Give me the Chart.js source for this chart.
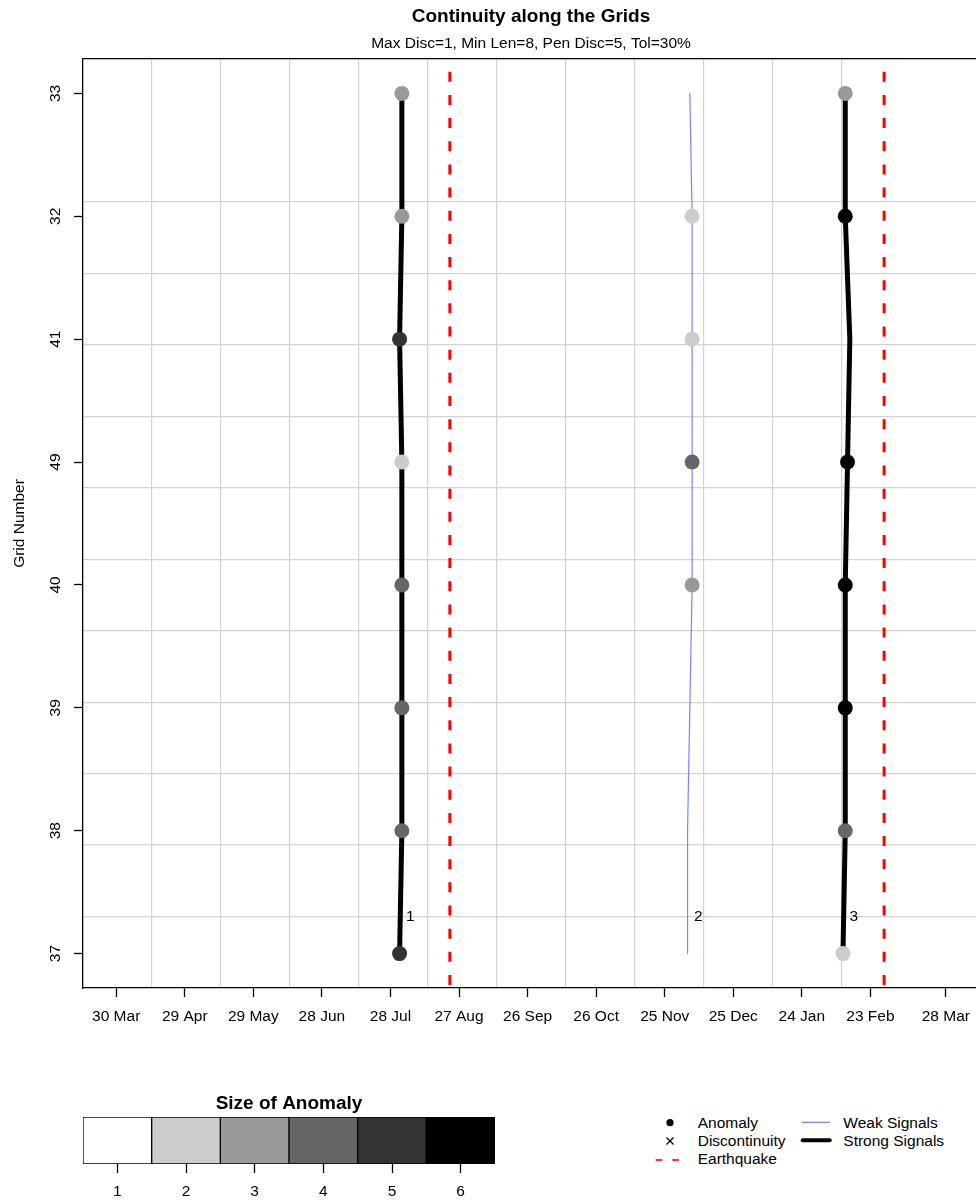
<!DOCTYPE html>
<html>
<head>
<meta charset="utf-8">
<script src="https://cdn.jsdelivr.net/npm/chart.js@4.4.1/dist/chart.umd.min.js"></script>
<style>
html,body{margin:0;padding:0;background:#fff;overflow:hidden;}
#wrap{position:relative;width:976px;height:1201px;overflow:hidden;background:#fff;font-family:"Liberation Sans",Arial,Helvetica,sans-serif;}
#main{position:absolute;left:0;top:0;}
#bar{position:absolute;left:0;top:1080px;}
#sym{position:absolute;left:640px;top:1100px;}
.lg{position:absolute;font-size:15.5px;line-height:18px;white-space:nowrap;color:#000;}
</style>
</head>
<body>
<div id="wrap">
<canvas id="main" width="1000" height="1040"></canvas>
<canvas id="bar" width="578" height="121"></canvas>
<svg id="sym" width="336" height="80" viewBox="0 0 336 80">
  <circle cx="30" cy="22.7" r="3.6" fill="#000"/>
  <line x1="26.5" y1="37.5" x2="33.5" y2="44.5" stroke="#000" stroke-width="1.3"/>
  <line x1="26.5" y1="44.5" x2="33.5" y2="37.5" stroke="#000" stroke-width="1.3"/>
  <line x1="15.7" y1="60" x2="22.3" y2="60" stroke="#FF0000" stroke-width="1.6"/>
  <line x1="32.3" y1="60" x2="39" y2="60" stroke="#FF0000" stroke-width="1.6"/>
  <line x1="161.7" y1="22.3" x2="190" y2="22.3" stroke="#8080FF" stroke-width="1.3"/>
  <line x1="162.7" y1="40.3" x2="189.7" y2="40.3" stroke="#000" stroke-width="4" stroke-linecap="round"/>
</svg>
<div class="lg" style="left:697.7px;top:1113.9px">Anomaly</div>
<div class="lg" style="left:697.7px;top:1131.9px">Discontinuity</div>
<div class="lg" style="left:697.7px;top:1149.9px">Earthquake</div>
<div class="lg" style="left:843.3px;top:1113.9px">Weak Signals</div>
<div class="lg" style="left:843.3px;top:1131.9px">Strong Signals</div>
</div>
<script>
// ---------- data ----------
const gridLabels = ['37','38','39','40','49','41','32','33'];   // bottom to top
const tickDays   = [0,30,60,90,120,150,180,210,240,270,300,330,363];
const tickLabels = ['30 Mar','29 Apr','29 May','28 Jun','28 Jul','27 Aug','26 Sep','26 Oct','25 Nov','25 Dec','24 Jan','23 Feb','28 Mar'];
const quakeDays  = [146, 336];
const sizeLevels = ['1','2','3','4','5','6'];
const sizeColors = ['#FFFFFF','#CCCCCC','#999999','#666666','#333333','#000000'];

// tracks: day (from 30 Mar) at each grid in gridLabels order, anomaly size (null = no anomaly)
const track1Days  = [124,125,125,125,125,124,125,125];
const track1Sizes = [5,4,4,4,2,5,3,3];
const track2Days  = [250,250,251,252,252,252,252,251];
const track2Sizes = [null,null,null,3,4,2,2,null];
const track3Days  = [318,319,319,319,320,321,319,319];
const track3Sizes = [2,4,6,6,6,null,6,3];
const trackIds    = ['1','2','3'];
const trackKinds  = ['strong','weak','strong'];

// ---------- chart ----------
const FONT = '"Liberation Sans", Arial, Helvetica, sans-serif';
Chart.defaults.font.family = FONT;
Chart.defaults.color = '#000';

const xr = tickDays[tickDays.length-1] - tickDays[0];
const xMin = tickDays[0] - 0.04*xr, xMax = tickDays[tickDays.length-1] + 0.04*xr;
const yr = gridLabels.length - 1;
const yMin = 1 - 0.04*yr, yMax = gridLabels.length + 0.04*yr;

const trackDays = [track1Days, track2Days, track3Days];
const trackSizes = [track1Sizes, track2Sizes, track3Sizes];

function gridTicks(s){
  const out = [];
  for (let k = 1; k <= 11; k++) out.push({value: s.min + k*(s.max - s.min)/13});
  s.ticks = out;
}

const datasets = [];
trackDays.forEach((days, t) => {
  const strong = trackKinds[t] === 'strong';
  const sizes = trackSizes[t];
  datasets.push({
    label: strong ? 'Strong Signals' : 'Weak Signals',
    data: days.map((d, i) => ({x: d, y: gridLabels.indexOf(gridLabels[i]) + 1})),
    xAxisID: 'x', yAxisID: 'y',
    borderColor: strong ? '#000000' : '#8080FF',
    borderWidth: strong ? 5 : 1.2,
    borderCapStyle: 'round', borderJoinStyle: 'round',
    tension: 0, fill: false,
    pointRadius: sizes.map(s => s == null ? 0 : 7.5),
    pointHoverRadius: sizes.map(s => s == null ? 0 : 7.5),
    pointBackgroundColor: sizes.map(s => s == null ? 'rgba(0,0,0,0)' : sizeColors[s-1]),
    pointBorderWidth: 0,
    order: 1
  });
});
quakeDays.forEach(d => {
  datasets.push({
    label: 'Earthquake',
    data: [{x: d, y: yMin}, {x: d, y: yMax}],
    xAxisID: 'x', yAxisID: 'y',
    borderColor: '#FF0000', borderWidth: 3,
    borderDash: [10, 13.16], borderDashOffset: 20.16, borderCapStyle: 'butt',
    pointRadius: 0, pointHoverRadius: 0, tension: 0, fill: false,
    order: 2
  });
});

const titlePlugin = {
  id: 'rtitles',
  afterDraw(chart){
    const {ctx, chartArea} = chart;
    const cx = (chartArea.left + chartArea.right)/2;
    ctx.save();
    ctx.fillStyle = '#000';
    ctx.textAlign = 'center';
    ctx.textBaseline = 'alphabetic';
    ctx.font = 'bold 19px ' + FONT;
    ctx.fillText('Continuity along the Grids', cx, 21.5);
    ctx.font = '15.5px ' + FONT;
    ctx.fillText('Max Disc=1, Min Len=8, Pen Disc=5, Tol=30%', cx, 47.5);
    ctx.restore();
  }
};
const idPlugin = {
  id: 'trackids',
  afterDatasetsDraw(chart){
    const {ctx} = chart;
    const xs = chart.scales.x, ys = chart.scales.y;
    ctx.save();
    ctx.fillStyle = '#000';
    ctx.font = '15.5px ' + FONT;
    ctx.textAlign = 'left';
    ctx.textBaseline = 'middle';
    trackDays.forEach((days, t) => {
      ctx.fillText(trackIds[t], xs.getPixelForValue(days[0]) + 6.5, ys.getPixelForValue(1.3));
    });
    ctx.restore();
  }
};

new Chart(document.getElementById('main'), {
  type: 'line',
  data: {datasets},
  options: {
    responsive: false, animation: false, events: [],
    layout: {padding: {left: 0, top: 59, right: 21, bottom: 0}},
    plugins: {legend: {display: false}, tooltip: {enabled: false}, title: {display: false}},
    scales: {
      x: {
        type: 'linear', position: 'bottom', min: xMin, max: xMax, bounds: 'data',
        afterBuildTicks: s => { s.ticks = tickDays.map(v => ({value: v})); },
        ticks: {autoSkip: false, maxRotation: 0, minRotation: 0, padding: 10, font: {size: 15.5}, color: '#000',
                callback: (v, i) => tickLabels[i]},
        grid: {drawOnChartArea: false, drawTicks: true, tickLength: 9, tickColor: '#000', tickWidth: 1.3},
        border: {display: true, color: '#000', width: 1.3},
        afterFit: s => { s.height = 52; }
      },
      y: {
        type: 'linear', position: 'left', min: yMin, max: yMax, bounds: 'data',
        afterBuildTicks: s => { s.ticks = gridLabels.map((_, i) => ({value: i + 1})); },
        ticks: {autoSkip: false, minRotation: 90, maxRotation: 90, crossAlign: 'center', padding: 10,
                font: {size: 15.5}, color: '#000', callback: (v, i) => gridLabels[i]},
        title: {display: true, text: 'Grid Number', font: {size: 15.5}, color: '#000', padding: {top: 10, bottom: 0}},
        grid: {drawOnChartArea: false, drawTicks: true, tickLength: 9, tickColor: '#000', tickWidth: 1.3},
        border: {display: true, color: '#000', width: 1.3},
        afterFit: s => { s.width = 83; }
      },
      xg: {
        type: 'linear', position: 'top', min: xMin, max: xMax, bounds: 'data',
        afterBuildTicks: gridTicks,
        ticks: {display: false},
        grid: {color: '#D3D3D3', lineWidth: 1.2, drawTicks: false, drawOnChartArea: true},
        border: {display: true, color: '#000', width: 1.3},
        afterFit: s => { s.height = 0; }
      },
      yg: {
        type: 'linear', position: 'right', min: yMin, max: yMax, bounds: 'data',
        afterBuildTicks: gridTicks,
        ticks: {display: false},
        grid: {color: '#D3D3D3', lineWidth: 1.2, drawTicks: false, drawOnChartArea: true},
        border: {display: true, color: '#000', width: 1.3},
        afterFit: s => { s.width = 0; }
      }
    }
  },
  plugins: [titlePlugin, idPlugin]
});

// ---------- colour key ----------
new Chart(document.getElementById('bar'), {
  type: 'bar',
  data: {
    labels: sizeLevels,
    datasets: [{
      data: sizeLevels.map(() => 1),
      backgroundColor: sizeColors,
      borderColor: '#000', borderWidth: 1, borderSkipped: false,
      barPercentage: 1, categoryPercentage: 1
    }]
  },
  options: {
    responsive: false, animation: false, events: [],
    layout: {padding: {left: 83, right: 83, top: 0, bottom: 0}},
    plugins: {
      legend: {display: false}, tooltip: {enabled: false},
      title: {display: true, text: 'Size of Anomaly', color: '#000', font: {size: 19, weight: 'bold'}, padding: {top: 11.9, bottom: 2.3}}
    },
    scales: {
      x: {
        grid: {offset: false, drawOnChartArea: false, drawTicks: true, tickLength: 9, tickColor: '#000', tickWidth: 1.3},
        border: {display: false},
        ticks: {padding: 9.5, font: {size: 15.5}, color: '#000'},
        afterFit: s => { s.height = 37; }
      },
      y: {display: false, min: 0, max: 1}
    }
  }
});
</script>
</body>
</html>
